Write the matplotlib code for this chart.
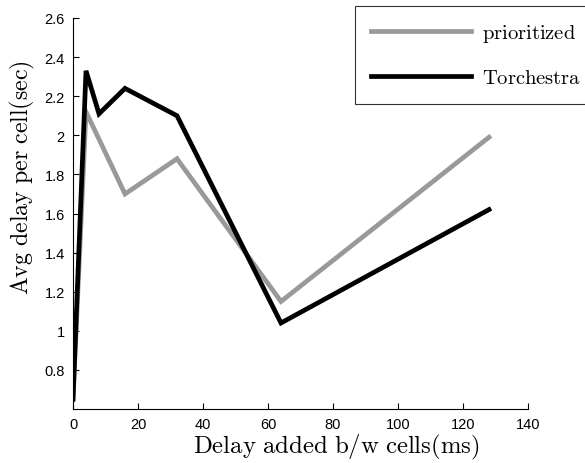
import matplotlib
matplotlib.use("Agg")
import matplotlib.pyplot as plt

plt.rcParams['mathtext.fontset'] = 'cm'
plt.rcParams['font.family'] = ['Liberation Sans', 'DejaVu Sans']

x_torch = [0, 4, 8, 16, 32, 64, 128]
y_torch = [0.65, 2.33, 2.11, 2.24, 2.10, 1.04, 1.62]
x_prio = [0, 4, 16, 32, 64, 128]
y_prio = [0.65, 2.12, 1.70, 1.88, 1.15, 1.99]
labels = ['prioritized', 'Torchestra']

fig = plt.figure(figsize=(5.85, 4.64), dpi=100)
ax = fig.add_axes([73/585, 1-410/464, (528-73)/585, (410-19)/464])

ax.plot(x_prio, y_prio, color='#999999', lw=3.4, label=r'$\mathrm{%s}$' % labels[0], solid_joinstyle='miter')
ax.plot(x_torch, y_torch, color='black', lw=3.4, label=r'$\mathrm{%s}$' % labels[1], solid_joinstyle='miter')

ax.set_xlim(0, 140)
ax.set_ylim(0.6, 2.6)
ax.set_xticks(range(0, 141, 20))
ax.set_yticks([0.8, 1, 1.2, 1.4, 1.6, 1.8, 2, 2.2, 2.4, 2.6])
ax.set_yticklabels(['0.8', '1', '1.2', '1.4', '1.6', '1.8', '2', '2.2', '2.4', '2.6'])
ax.spines['top'].set_visible(False)
ax.spines['right'].set_visible(False)
ax.tick_params(direction='in', length=4, width=0.8, labelsize=10.5, pad=6)
ax.set_xlabel(r'$\mathrm{Delay\ added\ b/w\ cells(ms)}$', fontsize=17.8)
ax.set_ylabel(r'$\mathrm{Avg\ delay\ per\ cell(sec)}$', fontsize=17.2)
ax.xaxis.set_label_coords((336-73)/455, -(453-410)/391, transform=ax.transAxes)
ax.xaxis.label.set_va('baseline')
ax.yaxis.set_label_coords(-(73-22)/455, (410-178)/391, transform=ax.transAxes)
ax.yaxis.label.set_va('center')

leg = ax.legend(loc='upper left', bbox_to_anchor=(355/585, 1-7/464),
                bbox_transform=fig.transFigure, fontsize=14.8, frameon=True,
                fancybox=False, edgecolor='black', handlelength=4.85,
                handletextpad=0.55, borderpad=0.8, labelspacing=1.15,
                borderaxespad=0)
leg.get_frame().set_linewidth(0.8)

fig.savefig('out.png', dpi=100)
